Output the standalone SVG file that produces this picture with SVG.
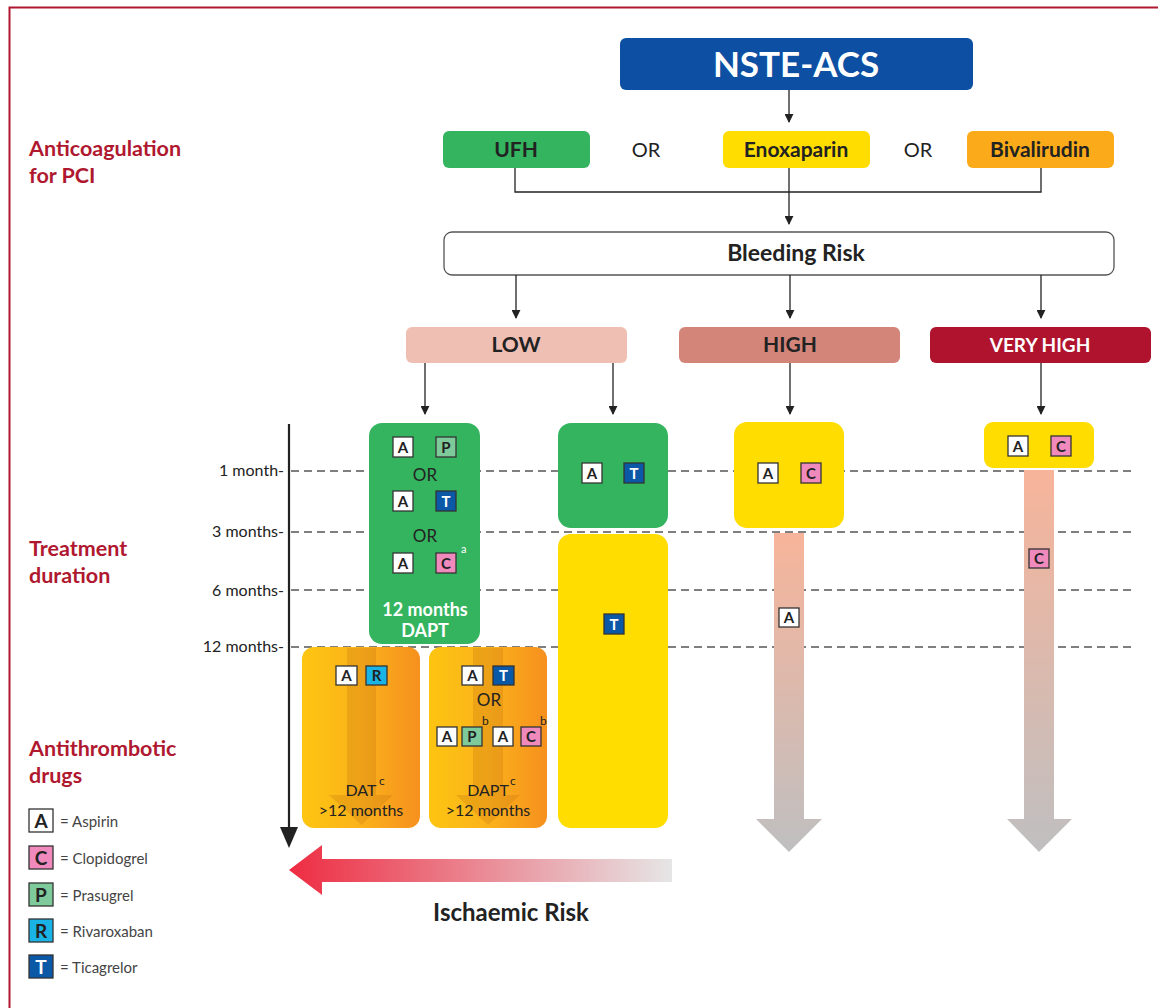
<svg xmlns="http://www.w3.org/2000/svg" width="1158" height="1008" viewBox="0 0 1158 1008">
<defs>
<linearGradient id="gPink" x1="0" y1="0" x2="0" y2="1">
<stop offset="0" stop-color="#f7b49a"/><stop offset="1" stop-color="#bfbfc0"/>
</linearGradient>
<linearGradient id="gOrange" x1="0" y1="0" x2="1" y2="0">
<stop offset="0" stop-color="#fdc511"/><stop offset="0.5" stop-color="#fbb21b"/><stop offset="1" stop-color="#f6901e"/>
</linearGradient>
<linearGradient id="gRed" x1="0" y1="0" x2="1" y2="0">
<stop offset="0" stop-color="#ee2c42"/><stop offset="1" stop-color="#e6e6e6"/>
</linearGradient>
<marker id="ah" viewBox="0 0 10 10" refX="9" refY="5" markerWidth="9" markerHeight="9" markerUnits="userSpaceOnUse" orient="auto">
<path d="M0,0 L10,5 L0,10 Z" fill="#222"/>
</marker>
<style>
text{font-family:Lato,"Open Sans","Liberation Sans",sans-serif;}
.lbl{font-size:21.5px;font-weight:700;fill:#b0182f;}
.tick{font-size:16px;fill:#222;text-anchor:end;}
.hd{font-size:21px;font-weight:700;fill:#222;text-anchor:middle;}
.hdw{font-size:19px;font-weight:700;fill:#fff;text-anchor:middle;}
.or{font-size:20px;fill:#222;text-anchor:middle;}
.orS{font-size:17px;fill:#222;text-anchor:middle;}
.bt{font-size:15px;font-weight:700;text-anchor:middle;fill:#222;}
.btw{font-size:15px;font-weight:700;text-anchor:middle;fill:#fff;}
.leg{font-size:15px;fill:#444;}
.sup{font-size:12px;fill:#222;}
.conn{fill:none;stroke:#222;stroke-width:1.3;}
.dash{fill:none;stroke:#555;stroke-width:1.3;stroke-dasharray:8 5;}
.bA{fill:#fff;stroke:#333;stroke-width:1.3;}
.bC{fill:#f08abd;stroke:#333;stroke-width:1.3;}
.bP{fill:#7fca9b;stroke:#333;stroke-width:1.3;}
.bR{fill:#1ab3e6;stroke:#333;stroke-width:1.3;}
.bT{fill:#0b58a7;stroke:#333;stroke-width:1.3;}
.green{fill:#34b45f;}
.yellow{fill:#ffdd00;}
.inner{fill:#b5650f;opacity:0.22;}
.dtxt{font-size:16px;fill:#222;text-anchor:middle;}
</style>
</defs>

<rect width="1158" height="1008" fill="#fff"/>
<path d="M9.5,1008 V7.5 H1158" fill="none" stroke="#b0182f" stroke-width="2"/>

<!-- side labels -->
<g id="labels">
<text class="lbl" x="29" y="156">Anticoagulation</text>
<text class="lbl" x="29" y="183">for PCI</text>
<text class="lbl" x="29" y="556">Treatment</text>
<text class="lbl" x="29" y="583">duration</text>
<text class="lbl" x="29" y="756">Antithrombotic</text>
<text class="lbl" x="29" y="783">drugs</text>
<text class="tick" x="284" y="476">1 month-</text>
<text class="tick" x="284" y="537">3 months-</text>
<text class="tick" x="284" y="596">6 months-</text>
<text class="tick" x="284" y="652">12 months-</text>
</g>

<!-- dashed time lines -->
<g id="timelines">
<line class="dash" x1="291" y1="471" x2="1132" y2="471"/>
<line class="dash" x1="291" y1="532" x2="1132" y2="532"/>
<line class="dash" x1="291" y1="590" x2="1132" y2="590"/>
<line class="dash" x1="291" y1="647" x2="1132" y2="647"/>
</g>

<!-- top nodes -->
<g id="nste">
<rect x="620" y="38" width="353" height="52" rx="6" fill="#0d4fa2"/>
<text x="796" y="77" font-size="35" font-weight="700" fill="#fff" text-anchor="middle">NSTE-ACS</text>
</g>
<g id="ufh">
<rect x="443" y="131" width="147" height="37" rx="6" class="green"/>
<text class="hd" x="516" y="157">UFH</text>
</g>
<text class="or" x="646" y="157">OR</text>
<g id="enox">
<rect x="723" y="131" width="147" height="37" rx="6" class="yellow"/>
<text class="hd" x="796" y="157">Enoxaparin</text>
</g>
<text class="or" x="918" y="157">OR</text>
<g id="bival">
<rect x="967" y="131" width="147" height="37" rx="6" fill="#fbab19"/>
<text class="hd" x="1040" y="157">Bivalirudin</text>
</g>
<g id="bleeding">
<rect x="444" y="232" width="670" height="43" rx="8" fill="#fff" stroke="#555" stroke-width="1.3"/>
<text x="796" y="261" font-size="23" font-weight="700" fill="#222" text-anchor="middle">Bleeding Risk</text>
</g>
<g id="low">
<rect x="406" y="327" width="221" height="36" rx="6" fill="#f0bfb3"/>
<text class="hd" x="516" y="352" font-size="19">LOW</text>
</g>
<g id="high">
<rect x="679" y="327" width="221" height="36" rx="6" fill="#d4857a"/>
<text class="hd" x="790" y="352" font-size="19">HIGH</text>
</g>
<g id="veryhigh">
<rect x="930" y="327" width="221" height="36" rx="6" fill="#b0132e"/>
<text class="hdw" x="1040" y="352">VERY HIGH</text>
</g>

<!-- connectors -->
<g id="connectors">
<line class="conn" x1="789" y1="90" x2="789" y2="122" marker-end="url(#ah)"/>
<path class="conn" d="M515,168 V192 H1041 V168"/>
<line class="conn" x1="789" y1="168" x2="789" y2="224" marker-end="url(#ah)"/>
<line class="conn" x1="516" y1="275" x2="516" y2="318" marker-end="url(#ah)"/>
<line class="conn" x1="790" y1="275" x2="790" y2="318" marker-end="url(#ah)"/>
<line class="conn" x1="1041" y1="275" x2="1041" y2="318" marker-end="url(#ah)"/>
<line class="conn" x1="425" y1="363" x2="425" y2="414" marker-end="url(#ah)"/>
<line class="conn" x1="613" y1="363" x2="613" y2="414" marker-end="url(#ah)"/>
<line class="conn" x1="790" y1="363" x2="790" y2="414" marker-end="url(#ah)"/>
<line class="conn" x1="1041" y1="363" x2="1041" y2="414" marker-end="url(#ah)"/>
<!-- time axis -->
<line x1="289" y1="424" x2="289" y2="832" stroke="#222" stroke-width="2.2"/>
<path d="M280,827 L298,827 L289,848 Z" fill="#222"/>
</g>

<!-- LOW: 12 months DAPT -->
<g id="low-dapt12">
<rect x="369" y="423" width="111" height="221" rx="13" class="green"/>
<rect class="bA" x="393" y="437" width="20" height="20"/><text class="bt" x="403" y="452.5">A</text>
<rect class="bP" x="436" y="437" width="20" height="20"/><text class="bt" x="446" y="452.5">P</text>
<text class="orS" x="425" y="481">OR</text>
<rect class="bA" x="393" y="491" width="20" height="20"/><text class="bt" x="403" y="506.5">A</text>
<rect class="bT" x="436" y="491" width="20" height="20"/><text class="btw" x="446" y="506.5">T</text>
<text class="orS" x="425" y="542">OR</text>
<rect class="bA" x="393" y="553" width="20" height="20"/><text class="bt" x="403" y="568.5">A</text>
<rect class="bC" x="436" y="553" width="20" height="20"/><text class="bt" x="446" y="568.5">C</text>
<text x="461" y="553" font-size="11" fill="#fff">a</text>
<text x="425" y="616" font-size="18" font-weight="700" fill="#fff" text-anchor="middle">12 months</text>
<text x="425" y="637" font-size="18" font-weight="700" fill="#fff" text-anchor="middle">DAPT</text>
</g>

<!-- LOW: A+T then T -->
<g id="low-at">
<rect x="558" y="423" width="110" height="105" rx="13" class="green"/>
<rect class="bA" x="582" y="463" width="20" height="20"/><text class="bt" x="592" y="478.5">A</text>
<rect class="bT" x="624" y="463" width="20" height="20"/><text class="btw" x="634" y="478.5">T</text>
</g>
<g id="low-t">
<rect x="558" y="534" width="110" height="294" rx="13" class="yellow"/>
<rect class="bT" x="604" y="614" width="20" height="20"/><text class="btw" x="614" y="629.5">T</text>
</g>

<!-- DAT >12 months -->
<g id="dat">
<rect x="302" y="647" width="118" height="181" rx="12" fill="url(#gOrange)"/>
<path class="inner" d="M347,648 H376 V795 H393 L361.5,825 L329,795 H347 Z"/>
<rect class="bA" x="336" y="666" width="21" height="19"/><text class="bt" x="346.5" y="681">A</text>
<rect class="bR" x="366" y="666" width="21" height="19"/><text class="bt" x="376.5" y="681">R</text>
<text class="dtxt" x="361" y="796">DAT</text>
<text class="sup" x="379" y="785">c</text>
<text class="dtxt" x="361" y="816">&gt;12 months</text>
</g>

<!-- DAPT >12 months -->
<g id="dapt">
<rect x="429" y="647" width="118" height="181" rx="12" fill="url(#gOrange)"/>
<path class="inner" d="M473,648 H503 V795 H520 L488,825 L456,795 H473 Z"/>
<rect class="bA" x="462" y="666" width="21" height="19"/><text class="bt" x="472.5" y="681">A</text>
<rect class="bT" x="493" y="666" width="21" height="19"/><text class="btw" x="503.5" y="681">T</text>
<text x="489" y="706" font-size="17" fill="#222" text-anchor="middle">OR</text>
<text class="sup" x="482" y="725">b</text>
<text class="sup" x="540" y="725">b</text>
<rect class="bA" x="437" y="727" width="20" height="19"/><text class="bt" x="447" y="742">A</text>
<rect class="bP" x="462" y="727" width="20" height="19"/><text class="bt" x="472" y="742">P</text>
<rect class="bA" x="493" y="727" width="20" height="19"/><text class="bt" x="503" y="742">A</text>
<rect class="bC" x="521" y="727" width="20" height="19"/><text class="bt" x="531" y="742">C</text>
<text class="dtxt" x="488" y="796">DAPT</text>
<text class="sup" x="510" y="785">c</text>
<text class="dtxt" x="488" y="816">&gt;12 months</text>
</g>

<!-- HIGH -->
<g id="high-ac">
<rect x="734" y="422" width="110" height="106" rx="13" class="yellow"/>
<rect class="bA" x="758" y="463" width="20" height="20"/><text class="bt" x="768" y="478.5">A</text>
<rect class="bC" x="801" y="463" width="20" height="20"/><text class="bt" x="811" y="478.5">C</text>
</g>
<g id="high-a">
<path d="M774,533 H804 V819 H822 L789,852 L756,819 H774 Z" fill="url(#gPink)"/>
<rect class="bA" x="779" y="608" width="20" height="19"/><text class="bt" x="789" y="623">A</text>
</g>

<!-- VERY HIGH -->
<g id="vhigh-ac">
<rect x="984" y="422" width="110" height="46" rx="9" class="yellow"/>
<rect class="bA" x="1008" y="436" width="20" height="20"/><text class="bt" x="1018" y="451.5">A</text>
<rect class="bC" x="1051" y="436" width="20" height="20"/><text class="bt" x="1061" y="451.5">C</text>
</g>
<g id="vhigh-c">
<path d="M1024,470 H1054 V819 H1072 L1039,852 L1007,819 H1024 Z" fill="url(#gPink)"/>
<rect class="bC" x="1029" y="549" width="20" height="19"/><text class="bt" x="1039" y="564">C</text>
</g>

<!-- Ischaemic risk arrow -->
<g id="ischaemic">
<path d="M672,859 V882 H322 V895 L289,870 L322,845 V859 Z" fill="url(#gRed)"/>
<text x="511" y="921" font-size="24" font-weight="700" fill="#222" text-anchor="middle">Ischaemic Risk</text>
</g>

<!-- legend -->
<g id="legend">
<rect class="bA" x="29" y="809" width="24" height="23"/><text x="41" y="828" font-size="19" font-weight="700" fill="#222" text-anchor="middle">A</text>
<text class="leg" x="60" y="827">= Aspirin</text>
<rect class="bC" x="29" y="846" width="24" height="23"/><text x="41" y="865" font-size="19" font-weight="700" fill="#222" text-anchor="middle">C</text>
<text class="leg" x="60" y="864">= Clopidogrel</text>
<rect class="bP" x="29" y="883" width="24" height="23"/><text x="41" y="902" font-size="19" font-weight="700" fill="#222" text-anchor="middle">P</text>
<text class="leg" x="60" y="901">= Prasugrel</text>
<rect class="bR" x="29" y="919" width="24" height="23"/><text x="41" y="938" font-size="19" font-weight="700" fill="#222" text-anchor="middle">R</text>
<text class="leg" x="60" y="937">= Rivaroxaban</text>
<rect class="bT" x="29" y="955" width="24" height="23"/><text x="41" y="974" font-size="19" font-weight="700" fill="#fff" text-anchor="middle">T</text>
<text class="leg" x="60" y="973">= Ticagrelor</text>
</g>
</svg>
